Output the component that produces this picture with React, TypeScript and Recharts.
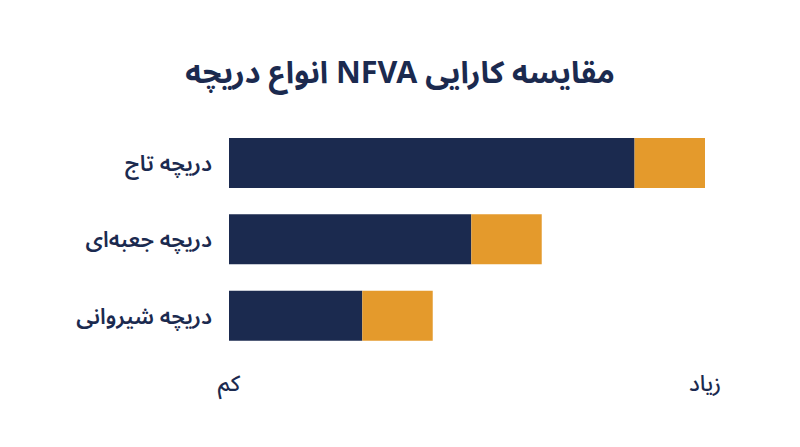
import { BarChart, Bar, XAxis, YAxis } from 'recharts'

const categories = ['دریچه تاج', 'دریچه جعبه‌ای', 'دریچه شیروانی']
const baseValues = [85.2, 50.9, 28]
const extraValues = [14.8, 14.8, 14.8]
const xTicks = [0, 100]
const xTickLabels = ['کم', 'زیاد']

const NAVY = '#1b2a4f'
const ORANGE = '#e49a2c'
const FONT = '"Noto Sans Arabic", "DejaVu Sans", sans-serif'

const data = categories.map((name, i) => ({
  name,
  base: baseValues[i],
  extra: extraValues[i],
}))

const App = () => {
  return (
    <div style={{ position: 'absolute', left: 0, top: 0, width: 800, height: 447, background: '#fff', fontFamily: FONT }}>
      <div
        style={{
          position: 'absolute',
          top: 41,
          width: 800,
          textAlign: 'center',
          fontSize: 30.5,
          fontWeight: 700,
          color: NAVY,
          direction: 'rtl',
        }}
      >
        مقایسه کارایی NFVA انواع دریچه
      </div>
      <BarChart
        width={800}
        height={447}
        data={data}
        layout="vertical"
        margin={{ top: 125, right: 95, bottom: 53, left: 0 }}
      >
        <XAxis
          type="number"
          domain={[0, 100]}
          ticks={xTicks}
          axisLine={false}
          tickLine={false}
          height={40}
          tickSize={0}
          tickMargin={21}
          tickFormatter={(v: number) => xTickLabels[xTicks.indexOf(v)]}
          tick={{ fill: NAVY, fontSize: 22, fontWeight: 500, fontFamily: FONT }}
        />
        <YAxis
          type="category"
          dataKey="name"
          width={229}
          axisLine={false}
          tickLine={false}
          tickSize={0}
          tickMargin={17}
          tick={{ fill: NAVY, fontSize: 22, fontWeight: 600, fontFamily: FONT }}
        />
        <Bar dataKey="base" stackId="a" fill={NAVY} barSize={50} isAnimationActive={false} />
        <Bar dataKey="extra" stackId="a" fill={ORANGE} barSize={50} isAnimationActive={false} />
      </BarChart>
    </div>
  )
}

export default App
